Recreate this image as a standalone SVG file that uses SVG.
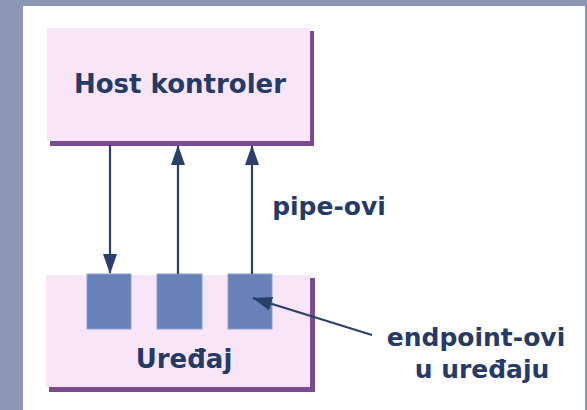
<svg xmlns="http://www.w3.org/2000/svg" width="587" height="410" viewBox="0 0 587 410">
<style>
.box{fill:#F8E6F8}
.shadow{fill:#7B4A8F}
.ep{fill:#6682B8;stroke:#8AA0CC;stroke-width:1}
.conn{stroke:#2A3F6A;stroke-width:2.2;fill:none}
text{font-family:"DejaVu Sans","Verdana",sans-serif;font-weight:bold;fill:#253B66}
</style>
<defs>
<marker id="ah" markerWidth="12" markerHeight="12" viewBox="0 0 12 12" refX="11" refY="6" orient="auto" markerUnits="userSpaceOnUse">
<path d="M0,0 L12,6 L0,12 Z" fill="#2A3F6A"/>
</marker>
<marker id="ah2" markerWidth="20" markerHeight="14" viewBox="0 0 20 14" refX="19" refY="7" orient="auto" markerUnits="userSpaceOnUse">
<path d="M0,0 L20,7 L0,14 Z" fill="#2A3F6A"/>
</marker>
</defs>
<rect x="0" y="0" width="587" height="410" fill="#8C96B4"/>
<rect x="23" y="6" width="562" height="404" fill="#FFFFFF"/>
<g id="host">
<rect class="shadow" x="50" y="31" width="264" height="115"/>
<rect class="box" x="47" y="28" width="263" height="113"/>
<text x="180" y="93" font-size="26" text-anchor="middle">Host kontroler</text>
</g>
<g id="device">
<rect class="shadow" x="49" y="278" width="266" height="114"/>
<rect class="box" x="46" y="275" width="264" height="112"/>
<text x="184" y="368" font-size="26" text-anchor="middle">Uređaj</text>
</g>
<g id="ep1"><rect class="ep" x="87" y="274" width="44" height="55"/></g>
<g id="ep2"><rect class="ep" x="157" y="274" width="45" height="55"/></g>
<g id="ep3"><rect class="ep" x="228" y="274" width="44" height="55"/></g>
<g id="connectors">
<line class="conn" x1="110" y1="145" x2="110" y2="273" marker-end="url(#ah2)"/>
<line class="conn" x1="178" y1="274" x2="178" y2="146" marker-end="url(#ah2)"/>
<line class="conn" x1="252" y1="274" x2="252" y2="146" marker-end="url(#ah2)"/>
<line class="conn" x1="372" y1="335" x2="253" y2="298" marker-end="url(#ah2)"/>
</g>
<g id="labels">
<text x="329" y="215" font-size="25" text-anchor="middle">pipe-ovi</text>
<text x="476" y="346" font-size="25" text-anchor="middle">endpoint-ovi</text>
<text x="482" y="378" font-size="25" text-anchor="middle">u uređaju</text>
</g>
</svg>
